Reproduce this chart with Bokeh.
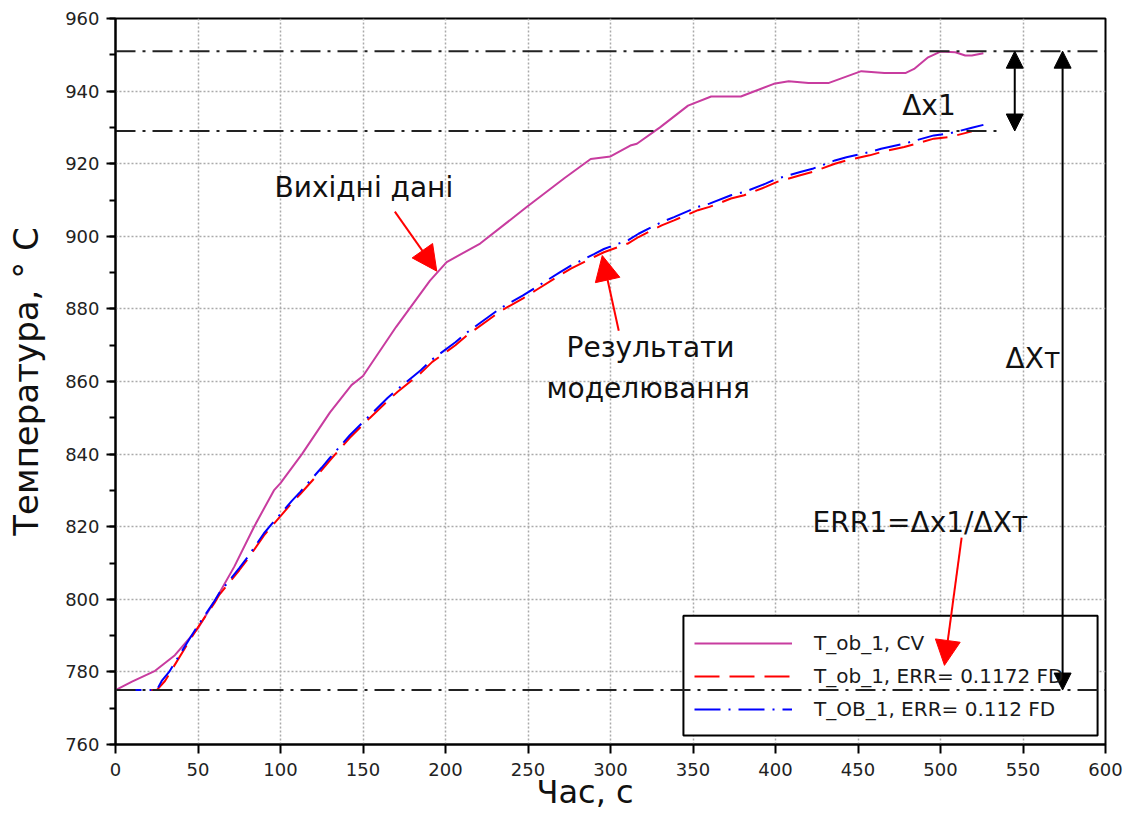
from bokeh.plotting import figure
from bokeh.models import Span, Arrow, NormalHead, Label, Range1d, FixedTicker
from bokeh.embed import file_html
from bokeh.resources import INLINE

# ---- data ----
cv_x = [0, 10, 24, 36, 50, 62, 72, 84, 96, 100, 113, 130, 143, 150, 170, 190.6, 200.7,
        221, 249, 272, 288, 300, 312, 316, 330, 347, 361, 379, 399, 408, 420, 432, 452,
        466, 479, 484, 492.5, 500, 509, 515, 519, 526]
cv_y = [775, 777.3, 780.3, 784.6, 792, 801, 809, 820, 830, 832, 840, 851.5, 859, 861.5,
        875, 887.8, 892.9, 898, 908, 916, 921.3, 922, 925, 925.5, 930, 936, 938.5, 938.5,
        942, 942.7, 942.2, 942.2, 945.5, 945, 945, 946.1, 949.3, 950.9, 950.7, 949.8,
        949.8, 950.4]

fd1_x = [0, 25, 30, 36, 45, 50, 60, 63, 75, 80, 90, 95, 107, 112, 125, 130, 142, 154,
         165, 171, 185, 192, 206, 213, 227, 234, 247, 255, 269, 276, 290, 296, 311, 317,
         331, 338.5, 353, 360, 373, 381, 394, 401, 415, 423, 436, 443, 457, 464, 478, 485,
         496, 506, 519]
fd1_y = [775, 775, 777.5, 782, 788.7, 792.3, 799, 801.3, 808, 811, 817.6, 820.3, 826.6,
         829, 835.6, 838.3, 844.5, 849.9, 854.7, 857.2, 862.3, 865.4, 870, 872.7, 877.3,
         879.6, 882.9, 885.2, 889.2, 891.1, 894.3, 895.6, 898.1, 899.8, 903, 904.4, 907.2,
         908.1, 910.4, 911.3, 913.6, 915, 916.8, 917.8, 920, 920.9, 922.3, 923.2, 924.6,
         925.5, 926.9, 927.4, 928.9]

fd2_x = [0, 25, 28, 32.5, 36, 45, 50, 60, 63, 75, 80, 90, 95, 107, 112, 125, 130, 142,
         154, 165, 171, 185, 192, 206, 213, 227, 234, 247, 255, 269, 276, 290, 296, 311,
         317, 331, 338.5, 353, 360, 373, 381, 394, 401, 415, 423, 436, 443, 457, 464, 478,
         485, 496, 506, 519, 526]
fd2_y = [775, 775, 777.5, 780, 782.6, 789.2, 792.8, 799.5, 801.8, 808.6, 811.6, 818.2,
         820.9, 827.2, 829.6, 836.3, 839, 845.2, 850.6, 855.5, 857.9, 863.1, 866.1, 870.8,
         873.5, 878.1, 880.4, 883.7, 886, 890, 891.9, 895.1, 896.5, 899, 900.7, 903.9,
         905.3, 908.1, 909, 911.3, 912.2, 914.5, 915.9, 917.7, 918.7, 920.9, 921.8, 923.2,
         924.1, 925.5, 926.4, 927.8, 928.4, 929.9, 930.7]

series_labels = ["T_ob_1, CV", "T_ob_1, ERR= 0.1172 FD", "T_OB_1, ERR= 0.112 FD"]

x_ticks = list(range(0, 601, 50))
y_ticks = list(range(760, 961, 20))
y_minor = list(range(760, 961, 10))

level_top = 951      # max of measured data
level_model = 929    # max of model
level_start = 775    # initial temperature
level_model_end_x = 537

dx1_x = 545
dxt_x = 574

# legend panel extent (data units)
legend_box = dict(left=344.2, right=595.2, bottom=762.5, top=795.5)

# ---- figure ----
FONT = "DejaVu Sans"
p = figure(width=1135, height=816, x_range=Range1d(0, 600), y_range=Range1d(760, 960),
           output_backend="svg", toolbar_location=None,
           min_border_left=115, min_border_right=30, min_border_top=18, min_border_bottom=72)
p.background_fill_color = "white"
p.border_fill_color = "white"
p.outline_line_color = "black"
p.outline_line_width = 2

p.xaxis.ticker = FixedTicker(ticks=x_ticks)
p.yaxis.ticker = FixedTicker(ticks=y_ticks, minor_ticks=y_minor)
p.xgrid.ticker = FixedTicker(ticks=x_ticks)
p.ygrid.ticker = FixedTicker(ticks=y_ticks)
for g in (p.xgrid, p.ygrid):
    g.grid_line_color = "#aaaaaa"
    g.grid_line_dash = "2 2"
    g.grid_line_width = 1.5

for ax in (p.xaxis, p.yaxis):
    ax.axis_line_color = "black"
    ax.axis_line_width = 2
    ax.major_tick_line_color = "black"
    ax.major_tick_line_width = 2
    ax.major_tick_in = 0
    ax.major_tick_out = 9
    ax.minor_tick_line_color = "black"
    ax.minor_tick_line_width = 2
    ax.minor_tick_in = 0
    ax.minor_tick_out = 6
    ax.major_label_text_font = FONT
    ax.major_label_text_font_size = "18px"
    ax.major_label_text_color = "#222222"
    ax.axis_label_text_font = FONT
    ax.axis_label_text_font_style = "normal"
    ax.axis_label_text_color = "#111111"
p.xaxis.minor_tick_line_color = None
p.xaxis.major_label_standoff = 9
p.yaxis.major_label_standoff = 7

p.yaxis.axis_label = "Температура, ° C"
p.yaxis.axis_label_text_font_size = "34px"
p.yaxis.axis_label_standoff = 16

p.xaxis.axis_label = "Час, с" + "\u00a0" * 5
p.xaxis.axis_label_text_font_size = "32px"
p.xaxis.axis_label_standoff = -6

# legend panel drawn as a glyph so that reference lines/arrows can overlap it
p.quad(fill_color="white", line_color="black", line_width=2, **legend_box)

# ---- series ----
p.line(cv_x, cv_y, line_color="#c83c9f", line_width=2, legend_label=series_labels[0])
p.line(fd1_x, fd1_y, line_color="#ff0000", line_width=2, line_dash="25 10",
       legend_label=series_labels[1])
p.line(fd2_x, fd2_y, line_color="#0000ff", line_width=2, line_dash="26 8 2 8",
       legend_label=series_labels[2])

leg = p.legend[0]
leg.location = (579, 21)
leg.border_line_color = None
leg.background_fill_alpha = 0
leg.label_text_font = FONT
leg.label_text_font_size = "20px"
leg.label_text_color = "#1a1a1a"
leg.glyph_width = 98
leg.glyph_height = 28
leg.label_height = 28
leg.label_width = 265
leg.label_standoff = 22
leg.spacing = 5
leg.padding = 13
leg.margin = 0

# ---- reference lines ----
dd = "20 7 3 7"
p.line([0, level_model_end_x], [level_model, level_model], line_color="#222222",
       line_width=2, line_dash=dd)
p.add_layout(Span(location=level_top, dimension="width", line_color="#222222",
                  line_width=2, line_dash=dd, level="overlay"))
p.add_layout(Span(location=level_start, dimension="width", line_color="#222222",
                  line_width=2, line_dash=dd, level="overlay"))

# ---- arrows ----
def head(color, size):
    return NormalHead(size=size, fill_color=color, line_color=color)

p.add_layout(Arrow(x_start=dx1_x, y_start=level_model, x_end=dx1_x, y_end=level_top,
                   start=head("black", 17), end=head("black", 17),
                   line_color="black", line_width=2, level="overlay"))
p.add_layout(Arrow(x_start=dxt_x, y_start=level_start, x_end=dxt_x, y_end=level_top,
                   start=head("black", 17), end=head("black", 17),
                   line_color="black", line_width=2, level="overlay"))

red_arrows = [((169.3, 906.8), (194.7, 890.4)),
              ((305, 874), (295, 894.7)),
              ((512.8, 817), (502.4, 781.8))]
for (xs, ys), (xe, ye) in red_arrows:
    p.add_layout(Arrow(x_start=xs, y_start=ys, x_end=xe, y_end=ye,
                       end=head("red", 25), line_color="red", line_width=2,
                       level="overlay"))

# ---- annotation texts ----
ann_text = ["Вихідні дані", "Результати", "моделювання", "ERR1=Δx1/ΔXт", "Δx1", "ΔXт"]
ann_x = [150.5, 324.3, 322.8, 487.8, 493, 556]
ann_y = [913.4, 869.5, 858, 821.2, 936, 866.3]
for t, x, y in zip(ann_text, ann_x, ann_y):
    p.add_layout(Label(x=x, y=y, text=t, text_font=FONT, text_font_size="28px",
                       text_color="#111111", text_align="center",
                       text_baseline="alphabetic"))

open("out.html", "w").write(file_html(p, INLINE))
